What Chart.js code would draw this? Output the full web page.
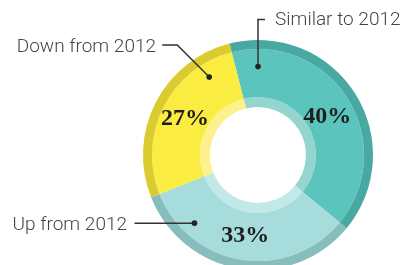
<!DOCTYPE html>
<html>
<head>
<meta charset="utf-8">
<script src="https://cdn.jsdelivr.net/npm/chart.js@4/dist/chart.umd.min.js"></script>
<style>
  html, body { margin: 0; padding: 0; background: #fff; overflow: hidden; }
  #wrap { position: relative; width: 403px; height: 275px; }
</style>
</head>
<body>
<div id="wrap"><canvas id="chart-donut"></canvas></div>
<script>
// données
const categories = ["Similar to 2012", "Up from 2012", "Down from 2012"];
const shares = [40, 33, 27];
const pctLabels = ["40%", "33%", "27%"];

const mainColors = ["#5bc4bc", "#a6dcdc", "#fbec41"];
const outerColors = ["#48a8a2", "#88bdbe", "#dccb2e"];
const innerColors = ["#94d5d0", "#c3e8e8", "#fdf18d"];

// petit décalage vertical des pourcentages
const labelNudgeY = [5, -1, 0];

// légendes avec trait de rappel (angle en degrés depuis le haut, rayon relatif)
const callouts = [
  { text: "Similar to 2012", angle: 0, r: 0.77, path: [[0, -47], [7, -47]], tx: 275, ty: 25, align: "left" },
  { text: "Up from 2012", angle: 223, r: 0.81, path: [[-60, 0]], tx: 127, ty: 230, align: "right" },
  { text: "Down from 2012", angle: 328, r: 0.80, path: [[-32, -32], [-47, -32]], tx: 156, ty: 52, align: "right" }
];

const calloutPlugin = {
  id: "callouts",
  afterDraw(chart) {
    const ctx = chart.ctx;
    const arc = chart.getDatasetMeta(1).data[0];
    const cx = arc.x, cy = arc.y, R = chart.getDatasetMeta(0).data[0].outerRadius;

    // pourcentages
    const meta = chart.getDatasetMeta(1);
    ctx.save();
    ctx.fillStyle = "#1e1e1e";
    ctx.font = "bold 24px 'Liberation Serif', 'DejaVu Serif', serif";
    ctx.textAlign = "center";
    ctx.textBaseline = "middle";
    meta.data.forEach((el, i) => {
      const p = el.tooltipPosition();
      ctx.fillText(pctLabels[i], p.x, p.y + 1 + labelNudgeY[i]);
    });
    ctx.restore();

    ctx.save();
    callouts.forEach(c => {
      const a = (c.angle - 90) * Math.PI / 180;
      const dx = cx + Math.cos(a) * R * c.r;
      const dy = cy + Math.sin(a) * R * c.r;
      ctx.strokeStyle = "#333";
      ctx.lineWidth = 1.5;
      ctx.beginPath();
      ctx.moveTo(dx, dy);
      c.path.forEach(pt => ctx.lineTo(dx + pt[0], dy + pt[1]));
      ctx.stroke();
      ctx.fillStyle = "#222";
      ctx.beginPath();
      ctx.arc(dx, dy, 2.8, 0, Math.PI * 2);
      ctx.fill();

      ctx.fillStyle = "#444";
      ctx.font = "300 19px Roboto, 'Liberation Sans', sans-serif";
      ctx.textAlign = c.align;
      ctx.textBaseline = "alphabetic";
      ctx.fillText(c.text, c.tx, c.ty);
    });
    ctx.restore();
  }
};

const ctx = document.getElementById("chart-donut").getContext("2d");
new Chart(ctx, {
  type: "doughnut",
  data: {
    labels: categories,
    datasets: [
      { data: shares, backgroundColor: outerColors, borderWidth: 0, weight: 9 },
      { data: shares, backgroundColor: mainColors, borderWidth: 0, weight: 48 },
      { data: shares, backgroundColor: innerColors, borderWidth: 0, weight: 10 }
    ]
  },
  options: {
    responsive: true,
    maintainAspectRatio: false,
    animation: false,
    rotation: -14.4,
    cutout: "41.7%",
    layout: { padding: { left: 143, right: 30, top: 40, bottom: 5 } },
    plugins: {
      legend: { display: false },
      tooltip: { enabled: false }
    },
    events: []
  },
  plugins: [calloutPlugin]
});
</script>
</body>
</html>
